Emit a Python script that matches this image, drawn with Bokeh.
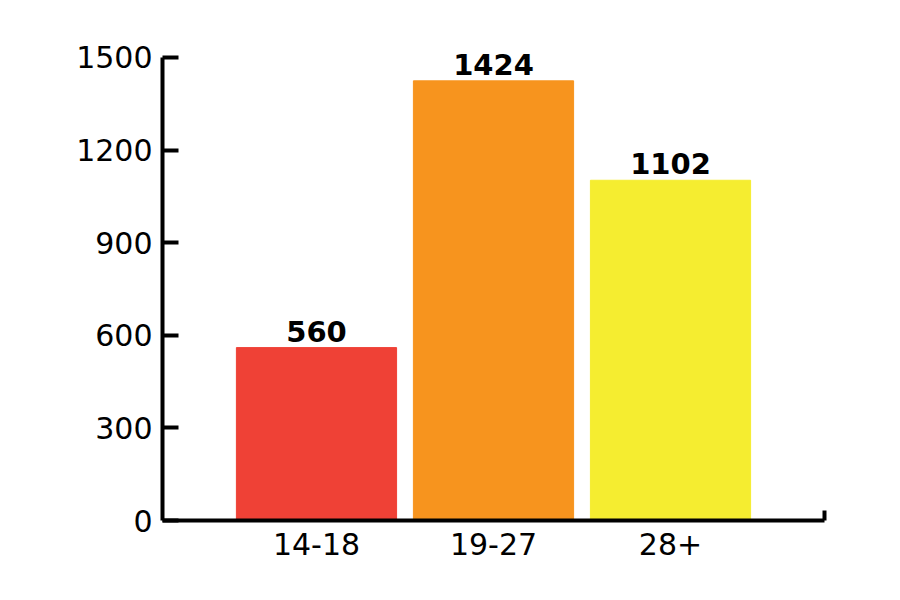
from bokeh.plotting import figure
from bokeh.models import ColumnDataSource, Range1d, FixedTicker, LabelSet
from bokeh.core.properties import value
from bokeh.embed import file_html
from bokeh.resources import INLINE

categories = ["14-18", "19-27", "28+"]
counts = [560, 1424, 1102]
colors = ["#EF4136", "#F7941E", "#F5ED30"]
y_ticks = [0, 300, 600, 900, 1200, 1500]

xs = list(range(len(categories)))
src = ColumnDataSource(dict(x=xs, top=counts, color=colors,
                            label=[str(c) for c in counts]))

FONT = "DejaVu Sans"

p = figure(width=892, height=592, output_backend="svg", toolbar_location=None,
           x_range=Range1d(-0.87, 2.87), y_range=Range1d(0, 1600),
           min_border_left=162, min_border_right=68,
           min_border_top=26, min_border_bottom=72)
p.outline_line_color = None
p.xgrid.grid_line_color = None
p.ygrid.grid_line_color = None
p.background_fill_color = "white"
p.border_fill_color = "white"

p.vbar(x="x", top="top", bottom=0, width=0.905, color="color", source=src)

labels = LabelSet(x="x", y="top", text="label", source=src,
                  text_align=value("center"), text_baseline=value("bottom"),
                  y_offset=value(6),
                  text_font=value(FONT), text_font_style=value("bold"),
                  text_font_size=value("29px"),
                  text_color=value("black"), level="overlay")
p.add_layout(labels)

# y axis
p.yaxis.ticker = FixedTicker(ticks=y_ticks)
p.yaxis.bounds = (0, 1500)
p.yaxis.axis_line_width = 4
p.yaxis.axis_line_color = "black"
p.yaxis.major_tick_in = 16
p.yaxis.major_tick_out = 0
p.yaxis.major_tick_line_width = 4
p.yaxis.minor_tick_line_color = None
p.yaxis.major_label_text_font = FONT
p.yaxis.major_label_text_font_size = "30px"
p.yaxis.major_label_text_color = "black"
p.yaxis.major_label_standoff = 10

# x axis
p.xaxis.ticker = FixedTicker(ticks=xs, minor_ticks=[2.869])
p.xaxis.major_label_overrides = {i: c for i, c in zip(xs, categories)}
p.xaxis.axis_line_width = 4
p.xaxis.axis_line_color = "black"
p.xaxis.major_tick_line_color = None
p.xaxis.minor_tick_in = 10
p.xaxis.minor_tick_out = 0
p.xaxis.minor_tick_line_width = 4
p.xaxis.minor_tick_line_color = "black"
p.xaxis.major_label_text_font = FONT
p.xaxis.major_label_text_font_size = "30px"
p.xaxis.major_label_text_color = "black"
p.xaxis.major_label_standoff = 6

open("out.html", "w").write(file_html(p, INLINE))
